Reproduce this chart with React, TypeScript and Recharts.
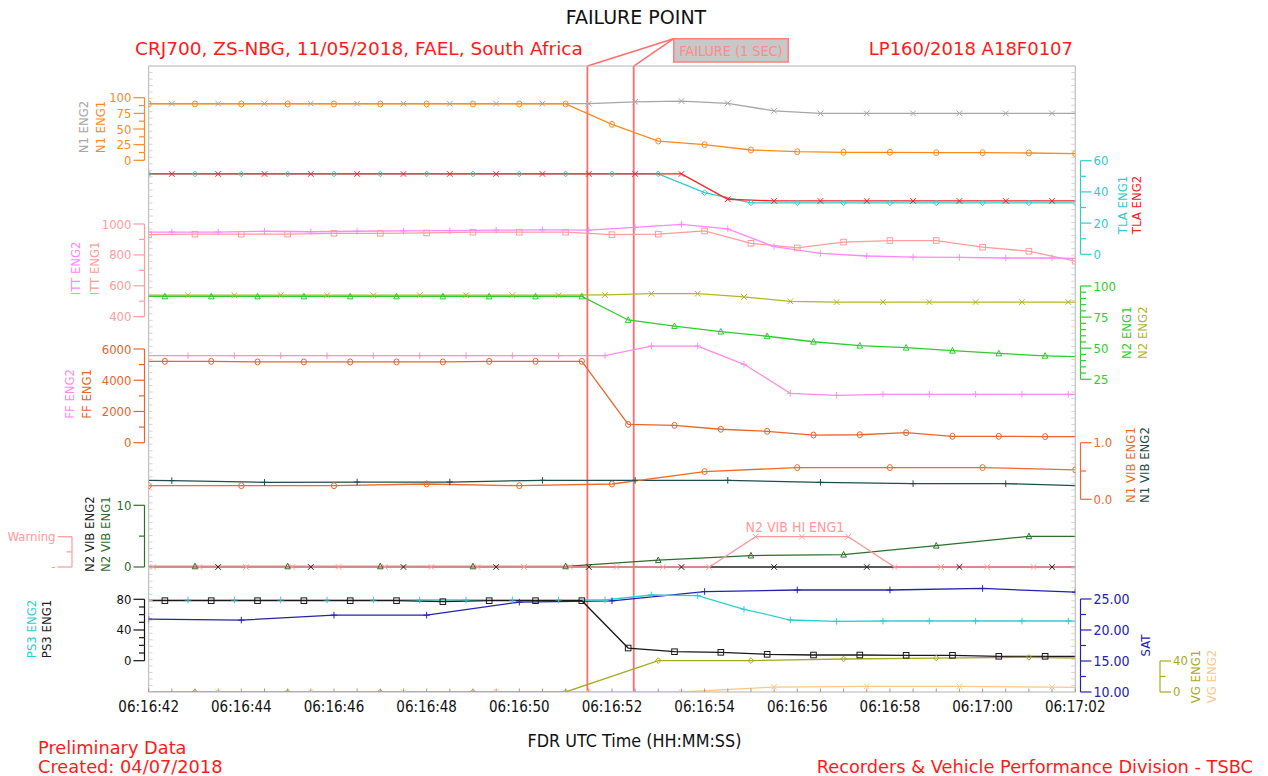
import React from 'react'
import { ComposedChart, Line, XAxis, YAxis, ReferenceLine, LabelList } from 'recharts'

const W = 1268
const H = 776
const PLOT_LEFT = 148.6
const PLOT_RIGHT = 1075.3
const PLOT_TOP = 66
const PLOT_BOTTOM = 692
const THIN = 0.01 // axes take no room, so they all sit on the plot edges

const COND = '"DejaVu Sans Condensed", "DejaVu Sans", sans-serif'
const SANS = '"DejaVu Sans", Verdana, sans-serif'
const RED = '#ff1a1a'
const FRAME = '#b4b4b4'

const C = {
  n1e1: '#ff8a1c', n1e2: '#a6a6a6', tla1: '#30cccc', tla2: '#ff2020', itt1: '#ff9c9c', itt2: '#ff88ff',
  n2e1: '#2ecc2e', n2e2: '#b5b528', ff1: '#e8652e', ff2: '#ff8ce8', v1e1: '#f06a2a', v1e2: '#1f4d4d',
  v2e1: '#2e6e2e', v2e2: '#222222', hi: '#ff9a9a', ps1: '#1a1a1a', ps2: '#2ecfcf', sat: '#2424a8',
  vg1: '#a9a922', vg2: '#f8c98a', fail: '#ff6e6e',
}

// time in seconds after 06:16:00
const T_START = 42
const T_END = 62
const FAIL_START = 51.47
const FAIL_END = 52.47

// recorded parameters (first sample time, sample step, values)
const N1_ENG1 = [90, 90, 90, 90, 90, 90, 90, 90, 90, 90, 57.5, 30.8, 25, 16.5, 13.8, 12.8, 12.8, 12.2, 12.2, 11.7, 10.6]
const N1_ENG2 = [90.5, 90.5, 90.5, 90.5, 90.5, 90.5, 90.5, 90.5, 90.5, 90.5, 90.5, 93.5, 94.7, 91, 79, 75, 75, 75, 75, 75, 75, 75]
const TLA_ENG1 = [51.5, 51.5, 51.5, 51.5, 51.5, 51.5, 51.5, 51.5, 51.5, 51.5, 51.5, 51.5, 39.5, 33, 33, 33, 33, 33, 33, 33, 33]
const TLA_ENG2 = [51.5, 51.5, 51.5, 51.5, 51.5, 51.5, 51.5, 51.5, 51.5, 51.5, 51.5, 51.5, 51.5, 35.3, 34.2, 34.2, 34.2, 34.2, 34.2, 34.2, 34.2, 34.2]
const ITT_ENG1 = [931, 934, 934, 935, 940, 940, 942, 947, 947, 947, 931, 934, 955, 875, 845, 883, 893, 893, 850, 824, 759]
const ITT_ENG2 = [948, 948, 948, 953, 950, 953, 955, 957, 960, 962, 960, 978, 998, 968, 854, 810, 793, 786, 784, 780, 780, 775]
const N2_ENG1 = [91.6, 91.6, 91.6, 91.6, 91.6, 91.6, 91.6, 91.6, 91.6, 91.6, 91.6, 72.7, 67.8, 63.3, 59.6, 55.2, 52, 50.4, 48, 45.8, 43.9, 42.8]
const N2_ENG2 = [92.6, 92.6, 92.6, 92.6, 92.6, 92.6, 92.6, 92.6, 92.6, 92.6, 92.8, 93.8, 93.8, 91.2, 87.7, 87.1, 87.1, 87.1, 87.1, 87.1, 87.1, 87.1]
const FF_ENG1 = [5200, 5210, 5210, 5170, 5170, 5170, 5170, 5170, 5210, 5210, 5210, 1170, 1110, 860, 730, 490, 510, 640, 410, 410, 390, 390]
const FF_ENG2 = [5570, 5570, 5570, 5570, 5570, 5570, 5570, 5570, 5570, 5570, 5570, 6190, 6190, 5020, 3160, 3030, 3100, 3100, 3100, 3100, 3100, 3100]
const N1VIB_ENG1 = [0.24, 0.24, 0.24, 0.27, 0.24, 0.27, 0.49, 0.56, 0.56, 0.56, 0.52]
const N1VIB_ENG2 = [0.34, 0.33, 0.3, 0.305, 0.305, 0.335, 0.335, 0.335, 0.3, 0.276, 0.276, 0.23]
const N2VIB_ENG1 = [0.1, 0.1, 0.1, 0.1, 0.1, 0.1, 1.1, 1.85, 2.0, 3.45, 4.97, 4.97]
const N2VIB_ENG2 = [0, 0, 0, 0, 0, 0, 0, 0, 0, 0, 0, 0]
const N2VIB_HI_ENG1 = [0, 0, 0, 0, 0, 0, 0, 0, 0, 0, 0, 0, 0, 0, 1, 1, 1, 0, 0, 0, 0, 0]
const PS3_ENG1 = [78.2, 78.2, 78.2, 78.2, 78.2, 78.2, 78.2, 76.9, 78.2, 78.2, 78.2, 16.5, 11.7, 10.9, 8.3, 7.4, 7.4, 7.0, 7.0, 5.7, 5.7, 5.7]
const PS3_ENG2 = [79.1, 79.1, 79.1, 79.1, 79.1, 79.1, 79.1, 79.1, 79.1, 79.1, 79.1, 85.6, 84.7, 67, 53, 51.3, 51.7, 51.7, 51.7, 51.7, 51.7, 51.7]
const SAT = [21.74, 21.6, 22.4, 22.4, 24.5, 24.7, 26.2, 26.45, 26.45, 26.7, 26.1]
const VG_ENG1 = [0, 0, 0, 0, 0, 0, 40.5, 40.5, 42.6, 43.8, 44.7, 43]
const VG_ENG2 = [0, 0, 0, 0, 0, 0, 0, 6.4, 7.2, 7.2, 6.4, 4.6]

// axis tick labels
const N1_TICKS = [0, 25, 50, 75, 100]
const ITT_TICKS = [400, 600, 800, 1000]
const FF_TICKS = [0, 2000, 4000, 6000]
const N2VIB_TICKS = [0, 10]
const WARN_TICKS = [0, 1]
const PS3_TICKS = [0, 40, 80]
const TLA_TICKS = [0, 20, 40, 60]
const N2_TICKS = [25, 50, 75, 100]
const N1VIB_TICKS = [0, 1]
const SAT_TICKS = [10, 15, 20, 25]
const VG_TICKS = [0, 40]

const at = (t0: number, step: number, vals: number[]) =>
  vals.map((v, i) => ({ t: Math.round((t0 + i * step) * 100) / 100, v }))

type Title = { text: string; color: string; dx: number }
type AxisSpec = {
  id: string
  side: 'left' | 'right'
  lo: number
  yLo: number
  hi: number
  yHi: number
  majors: number[]
  minor: number
  color: string
  gap: number
  majorLen: number
  titles: Title[]
  titleShift: number
  fmt?: (v: number) => string
  fontSize?: number
}

const AXES: AxisSpec[] = [
  { id: 'n1', side: 'left', lo: 0, yLo: 160.3, hi: 100, yHi: 97.7, majors: N1_TICKS, minor: 12.5, color: C.n1e1, gap: 4.1, majorLen: 11,
    titles: [{ text: 'N1 ENG2', color: C.n1e2, dx: -64.6 }, { text: 'N1 ENG1', color: C.n1e1, dx: -47.6 }], titleShift: -2 },
  { id: 'itt', side: 'left', lo: 400, yLo: 316.7, hi: 1000, yHi: 224, majors: ITT_TICKS, minor: 100, color: C.itt1, gap: 4.1, majorLen: 11,
    titles: [{ text: 'ITT ENG2', color: C.itt2, dx: -72.6 }, { text: 'ITT ENG1', color: C.itt1, dx: -54.1 }], titleShift: -2 },
  { id: 'ff', side: 'left', lo: 0, yLo: 442.7, hi: 6000, yHi: 349, majors: FF_TICKS, minor: 1000, color: C.ff1, gap: 4.1, majorLen: 11,
    titles: [{ text: 'FF ENG2', color: C.ff2, dx: -78.6 }, { text: 'FF ENG1', color: C.ff1, dx: -62.1 }], titleShift: -2 },
  { id: 'n2vib', side: 'left', lo: 0, yLo: 567, hi: 10, yHi: 505.3, majors: N2VIB_TICKS, minor: 5, color: C.v2e1, gap: 4.1, majorLen: 11,
    titles: [{ text: 'N2 VIB ENG2', color: C.v2e2, dx: -58.6 }, { text: 'N2 VIB ENG1', color: C.v2e1, dx: -42.6 }], titleShift: -2 },
  { id: 'warn', side: 'left', lo: 0, yLo: 567, hi: 1, yHi: 536.7, majors: WARN_TICKS, minor: 0.5, color: C.hi, gap: 76.6, majorLen: 14.5,
    titles: [], titleShift: 0, fmt: (v) => (v === 1 ? 'Warning' : '-') },
  { id: 'ps3', side: 'left', lo: 0, yLo: 660.7, hi: 80, yHi: 599.3, majors: PS3_TICKS, minor: 10, color: '#111111', gap: 4.1, majorLen: 11,
    titles: [{ text: 'PS3 ENG2', color: C.ps2, dx: -116.6 }, { text: 'PS3 ENG1', color: C.ps1, dx: -101.6 }], titleShift: -1 },
  { id: 'tla', side: 'right', lo: 0, yLo: 254.3, hi: 60, yHi: 160.7, majors: TLA_TICKS, minor: 10, color: C.tla1, gap: 5.2, majorLen: 11,
    titles: [{ text: 'TLA ENG1', color: C.tla1, dx: 47.3 }, { text: 'TLA ENG2', color: C.tla2, dx: 61.3 }], titleShift: -2.5 },
  { id: 'n2', side: 'right', lo: 25, yLo: 379.3, hi: 100, yHi: 286, majors: N2_TICKS, minor: 5, color: C.n2e1, gap: 5.2, majorLen: 11,
    titles: [{ text: 'N2 ENG1', color: C.n2e1, dx: 51.3 }, { text: 'N2 ENG2', color: C.n2e2, dx: 67.7 }], titleShift: 0 },
  { id: 'n1vib', side: 'right', lo: 0, yLo: 499.3, hi: 1, yHi: 442.7, majors: N1VIB_TICKS, minor: 0.5, color: C.v1e1, gap: 5.2, majorLen: 11,
    titles: [{ text: 'N1 VIB ENG1', color: C.v1e1, dx: 55.3 }, { text: 'N1 VIB ENG2', color: C.v1e2, dx: 69.3 }], titleShift: -6,
    fmt: (v) => v.toFixed(1) },
  { id: 'sat', side: 'right', lo: 10, yLo: 692, hi: 25, yHi: 599, majors: SAT_TICKS, minor: 2.5, color: C.sat, gap: 5.2, majorLen: 11,
    titles: [{ text: 'SAT', color: C.sat, dx: 70.3 }], titleShift: 0, fmt: (v) => v.toFixed(2), fontSize: 14 },
  { id: 'vg', side: 'right', lo: 0, yLo: 692, hi: 40, yHi: 661, majors: VG_TICKS, minor: 20, color: C.vg1, gap: 84.7, majorLen: 11,
    titles: [{ text: 'VG ENG1', color: C.vg1, dx: 120.7 }, { text: 'VG ENG2', color: C.vg2, dx: 136.7 }], titleShift: 0 },
]

const prepared = AXES.map((a) => {
  const ppu = (a.yLo - a.yHi) / (a.hi - a.lo)
  const domain: [number, number] = [a.lo - (PLOT_BOTTOM - a.yLo) / ppu, a.hi + (a.yHi - PLOT_TOP) / ppu]
  const n = Math.round((a.hi - a.lo) / a.minor)
  const ticks = Array.from({ length: n + 1 }, (_, i) => +(a.lo + i * a.minor).toFixed(4))
  return { ...a, ppu, domain, ticks }
})

type Prepared = (typeof prepared)[number]

const makeTick = (a: Prepared) => (props: any) => {
  const { y, payload } = props
  const v = payload.value
  const s = a.side === 'left' ? -1 : 1
  const edge = a.side === 'left' ? PLOT_LEFT : PLOT_RIGHT
  const bx = edge + s * a.gap
  const isMajor = a.majors.some((m) => Math.abs(m - v) < 1e-6)
  const len = isMajor ? a.majorLen : 5.5
  const isTop = Math.abs(v - a.hi) < 1e-6
  const isBottom = Math.abs(v - a.lo) < 1e-6
  const label = a.fmt ? a.fmt(v) : String(v)
  const midY = y - ((a.hi - a.lo) / 2) * a.ppu + a.titleShift
  return (
    <g>
      {!isTop && <line x1={bx} y1={y} x2={bx} y2={y - a.minor * a.ppu} stroke={a.color} strokeWidth={1.2} />}
      <line x1={bx} y1={y} x2={bx + s * len} y2={y} stroke={a.color} strokeWidth={1.2} />
      {isMajor && (
        <text x={bx + s * (len + 2)} y={y} textAnchor={s < 0 ? 'end' : 'start'} dominantBaseline="central"
          fill={a.color} fontSize={a.fontSize ?? 13} fontFamily={COND}>
          {label}
        </text>
      )}
      {isBottom &&
        a.titles.map((tt, i) => (
          <text key={i} x={edge + tt.dx} y={midY} transform={`rotate(-90 ${edge + tt.dx} ${midY})`} textAnchor="middle"
            dominantBaseline="central" fill={tt.color} fontSize={13} fontFamily={COND}>
            {tt.text}
          </text>
        ))}
    </g>
  )
}

const fmtTime = (t: number) => {
  const total = 6 * 3600 + 16 * 60 + Math.round(t)
  const p = (n: number) => String(n).padStart(2, '0')
  return `${p(Math.floor(total / 3600))}:${p(Math.floor((total % 3600) / 60))}:${p(total % 60)}`
}

const X_TICKS = Array.from({ length: (T_END - T_START) * 2 + 1 }, (_, i) => T_START + i * 0.5)

const XTick = (props: any) => {
  const { x, payload } = props
  const t = payload.value
  const labelled = Number.isInteger(t) && t % 2 === 0
  return (
    <g>
      <line x1={x} y1={PLOT_BOTTOM} x2={x} y2={PLOT_BOTTOM - 3.5} stroke="#9a9a9a" />
      {labelled && (
        <text x={x} y={PLOT_BOTTOM + 15} textAnchor="middle" dominantBaseline="central" fill="#111" fontSize={15} fontFamily={COND}>
          {fmtTime(t)}
        </text>
      )}
    </g>
  )
}

const FRAME_TICKS = Array.from({ length: 97 }, (_, i) => i)

const frameTick = (side: 'left' | 'right') => (props: any) => {
  const { y } = props
  const x = side === 'left' ? PLOT_LEFT : PLOT_RIGHT
  const s = side === 'left' ? 1 : -1
  return <line x1={x} y1={y} x2={x + s * 4} y2={y} stroke="#d4d4d4" />
}

const marker = (shape: string, color: string) => (p: any) => {
  const { cx, cy, index } = p
  const key = `m-${index}`
  if (cx == null || cy == null) return <g key={key} />
  const r = 2.8
  const common = { stroke: color, strokeWidth: 1, fill: 'none' }
  switch (shape) {
    case 'x':
      return <path key={key} d={`M${cx - r},${cy - r}L${cx + r},${cy + r}M${cx - r},${cy + r}L${cx + r},${cy - r}`} {...common} />
    case '+':
      return <path key={key} d={`M${cx - r - 0.5},${cy}L${cx + r + 0.5},${cy}M${cx},${cy - r - 0.5}L${cx},${cy + r + 0.5}`} {...common} />
    case 'o':
      return <ellipse key={key} cx={cx} cy={cy} rx={2.6} ry={3} {...common} />
    case 'sq':
      return <rect key={key} x={cx - r} y={cy - r} width={2 * r} height={2 * r} {...common} />
    case 'tri':
      return <path key={key} d={`M${cx},${cy - r - 0.4}L${cx + r},${cy + r - 0.4}L${cx - r},${cy + r - 0.4}Z`} {...common} />
    default:
      return <path key={key} d={`M${cx},${cy - r}L${cx + r},${cy}L${cx},${cy + r}L${cx - r},${cy}Z`} {...common} />
  }
}

type Series = { name: string; axis: string; data: { t: number; v: number }[]; color: string; mark: string }

const SERIES: Series[] = [
  { name: 'N1 ENG2', axis: 'n1', data: at(41.5, 1, N1_ENG2), color: C.n1e2, mark: 'x' },
  { name: 'N1 ENG1', axis: 'n1', data: at(42, 1, N1_ENG1), color: C.n1e1, mark: 'o' },
  { name: 'TLA ENG1', axis: 'tla', data: at(42, 1, TLA_ENG1), color: C.tla1, mark: 'dia' },
  { name: 'TLA ENG2', axis: 'tla', data: at(41.5, 1, TLA_ENG2), color: C.tla2, mark: 'x' },
  { name: 'ITT ENG1', axis: 'itt', data: at(42, 1, ITT_ENG1), color: C.itt1, mark: 'sq' },
  { name: 'ITT ENG2', axis: 'itt', data: at(41.5, 1, ITT_ENG2), color: C.itt2, mark: '+' },
  { name: 'N2 ENG2', axis: 'n2', data: at(41.85, 1, N2_ENG2), color: C.n2e2, mark: 'x' },
  { name: 'N2 ENG1', axis: 'n2', data: at(41.35, 1, N2_ENG1), color: C.n2e1, mark: 'tri' },
  { name: 'FF ENG2', axis: 'ff', data: at(41.85, 1, FF_ENG2), color: C.ff2, mark: '+' },
  { name: 'FF ENG1', axis: 'ff', data: at(41.35, 1, FF_ENG1), color: C.ff1, mark: 'o' },
  { name: 'N1 VIB ENG2', axis: 'n1vib', data: at(40.5, 2, N1VIB_ENG2), color: C.v1e2, mark: '+' },
  { name: 'N1 VIB ENG1', axis: 'n1vib', data: at(42, 2, N1VIB_ENG1), color: C.v1e1, mark: 'o' },
  { name: 'N2 VIB ENG2', axis: 'n2vib', data: at(41.5, 2, N2VIB_ENG2), color: C.v2e2, mark: 'x' },
  { name: 'N2 VIB ENG1', axis: 'n2vib', data: at(41, 2, N2VIB_ENG1), color: C.v2e1, mark: 'tri' },
  { name: 'SAT', axis: 'sat', data: at(42, 2, SAT), color: C.sat, mark: '+' },
  { name: 'PS3 ENG2', axis: 'ps3', data: at(41.85, 1, PS3_ENG2), color: C.ps2, mark: '+' },
  { name: 'PS3 ENG1', axis: 'ps3', data: at(41.35, 1, PS3_ENG1), color: C.ps1, mark: 'sq' },
  { name: 'VG ENG2', axis: 'vg', data: at(41.5, 2, VG_ENG2), color: C.vg2, mark: 'x' },
  { name: 'VG ENG1', axis: 'vg', data: at(41, 2, VG_ENG1), color: C.vg1, mark: 'dia' },
]

const HI_DATA = at(41.1, 1, N2VIB_HI_ENG1)

const leader = (dx: number) => (p: any) => {
  const vb = p.viewBox || {}
  return <line x1={vb.x} y1={vb.y} x2={vb.x + dx} y2={vb.y - 27.3} stroke={C.fail} strokeWidth={1.5} />
}

const failureBox = (p: any) => {
  const vb = p.viewBox || {}
  const bx = vb.x + 40
  const by = vb.y - 27.3
  return (
    <g>
      <line x1={vb.x} y1={vb.y} x2={bx} y2={by} stroke={C.fail} strokeWidth={1.5} />
      <rect x={bx} y={by} width={114.5} height={23.3} fill="#c8c8c8" stroke="#ff8080" strokeWidth={1.5} />
      <text x={bx + 57.2} y={by + 12} textAnchor="middle" dominantBaseline="central" fill="#ff8a8a" fontSize={14.3} fontFamily={COND}>
        FAILURE (1 SEC)
      </text>
    </g>
  )
}

const hiLabel = (p: any) => {
  if (p.index !== 15) return null
  return (
    <text x={p.x - 7} y={p.y - 10} textAnchor="middle" dominantBaseline="central" fill={C.hi} fontSize={14} fontFamily={COND}>
      N2 VIB HI ENG1
    </text>
  )
}

export default function App() {
  return (
    <div style={{ position: 'absolute', left: 0, top: 0, width: W, height: H, background: '#fff' }}>
      <ComposedChart
        width={W}
        height={H}
        margin={{ top: PLOT_TOP, left: PLOT_LEFT, right: W - PLOT_RIGHT, bottom: H - PLOT_BOTTOM }}
      >
        <XAxis xAxisId="t" dataKey="t" type="number" domain={[T_START, T_END]} allowDataOverflow height={THIN}
          ticks={X_TICKS} interval={0} tick={<XTick />} tickLine={false} tickSize={0} tickMargin={0}
          axisLine={{ stroke: FRAME }} />
        <XAxis xAxisId="top" orientation="top" type="number" domain={[T_START, T_END]} allowDataOverflow height={THIN}
          ticks={[T_START, T_END]} tick={() => <g />} tickLine={false} axisLine={{ stroke: FRAME }} />
        <YAxis yAxisId="frameL" orientation="left" width={THIN} type="number" domain={[0, 96]} allowDataOverflow
          ticks={FRAME_TICKS} interval={0} tick={frameTick('left')} tickSize={0} tickMargin={0} tickLine={false}
          axisLine={{ stroke: FRAME }} />
        <YAxis yAxisId="frameR" orientation="right" width={THIN} type="number" domain={[0, 96]} allowDataOverflow
          ticks={FRAME_TICKS} interval={0} tick={frameTick('right')} tickSize={0} tickMargin={0} tickLine={false}
          axisLine={{ stroke: FRAME }} />
        {prepared.map((a) => (
          <YAxis key={a.id} yAxisId={a.id} orientation={a.side} type="number" domain={a.domain} allowDataOverflow
            width={THIN} ticks={a.ticks} interval={0} tick={makeTick(a)} tickLine={false} axisLine={false}
            tickSize={0} tickMargin={0} />
        ))}
        <ReferenceLine xAxisId="t" yAxisId="n1" x={FAIL_START} stroke={C.fail} strokeWidth={1.8} label={leader(86.2)} />
        <ReferenceLine xAxisId="t" yAxisId="n1" x={FAIL_END} stroke={C.fail} strokeWidth={1.8} label={failureBox} />
        {SERIES.map((s) => (
          <Line key={s.name} name={s.name} xAxisId="t" yAxisId={s.axis} data={s.data} dataKey="v" type="linear"
            stroke={s.color} strokeWidth={1.3} dot={marker(s.mark, s.color)} activeDot={false} isAnimationActive={false} />
        ))}
        <Line name="N2 VIB HI ENG1" xAxisId="t" yAxisId="warn" data={HI_DATA} dataKey="v" type="linear" stroke={C.hi}
          strokeWidth={1.3} dot={marker('x', C.hi)} activeDot={false} isAnimationActive={false}>
          <LabelList dataKey="v" content={hiLabel} />
        </Line>
      </ComposedChart>
      <svg width={W} height={H} style={{ position: 'absolute', left: 0, top: 0, pointerEvents: 'none' }}>
        <text x={636} y={17} textAnchor="middle" dominantBaseline="central" fill="#111" fontSize={19} fontFamily={SANS}>
          FAILURE POINT
        </text>
        <text x={135} y={48} dominantBaseline="central" fill={RED} fontSize={18.5} fontFamily={SANS}>
          CRJ700, ZS-NBG, 11/05/2018, FAEL, South Africa
        </text>
        <text x={1073} y={48} textAnchor="end" dominantBaseline="central" fill={RED} fontSize={18} fontFamily={SANS}>
          LP160/2018 A18F0107
        </text>
        <text x={634.5} y={740} textAnchor="middle" dominantBaseline="central" fill="#111" fontSize={17.8} fontFamily={COND}>
          FDR UTC Time (HH:MM:SS)
        </text>
        <text x={38} y={747} dominantBaseline="central" fill={RED} fontSize={17.8} fontFamily={SANS}>
          Preliminary Data
        </text>
        <text x={38} y={766} dominantBaseline="central" fill={RED} fontSize={17.8} fontFamily={SANS}>
          Created: 04/07/2018
        </text>
        <text x={1253} y={766} textAnchor="end" dominantBaseline="central" fill={RED} fontSize={17.8} fontFamily={SANS}>
          Recorders &amp; Vehicle Performance Division - TSBC
        </text>
      </svg>
    </div>
  )
}
